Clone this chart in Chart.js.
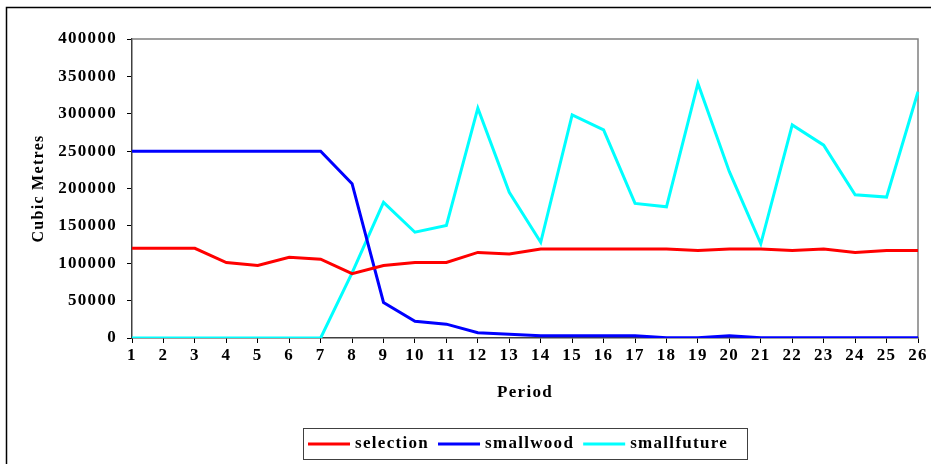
<!DOCTYPE html>
<html>
<head>
<meta charset="utf-8">
<script src="https://cdn.jsdelivr.net/npm/chart.js@4"></script>
<style>
  body { margin: 0; background: #fff; }
  canvas { display: block; }
</style>
</head>
<body>
<canvas id="myChart" width="931" height="464"></canvas>
<script>
var periods = ['1','2','3','4','5','6','7','8','9','10','11','12','13','14','15','16','17','18','19','20','21','22','23','24','25','26'];

var selection = [120000, 120000, 120000, 101000, 97000, 108000, 105500, 86000, 97000, 101000, 101000, 114500, 112500,
                 119000, 119000, 119000, 119000, 119000, 117000, 119000, 119000, 117000, 119000, 114500, 117000, 117000];
var smallwood = [250000, 250000, 250000, 250000, 250000, 250000, 250000, 206500, 47500, 22500, 18500, 7000, 5000,
                 3000, 3000, 3000, 3000, 500, 500, 3000, 500, 500, 500, 500, 500, 500];
var smallfuture = [0, 0, 0, 0, 0, 0, 0, 87000, 181500, 141500, 150500, 307500, 195000,
                   128000, 298500, 278500, 180000, 175500, 340500, 222500, 126000, 285000, 258000, 191500, 188500, 329500];

var seriesNames = ['selection', 'smallwood', 'smallfuture'];
var seriesColors = ['#ff0000', '#0000ff', '#00ffff'];

var serif = '"Liberation Serif", "Times New Roman", serif';
var spacing = '1.3px';

function boldFont(size) {
  return { family: serif, size: size, weight: 'bold' };
}

// letter spacing gets reset whenever the canvas is resized, so set it each pass
var spacingPlugin = {
  id: 'spacing',
  beforeUpdate: function (chart) { chart.ctx.letterSpacing = spacing; },
  beforeDraw: function (chart) { chart.ctx.letterSpacing = spacing; }
};

var framePlugin = {
  id: 'frame',
  beforeDatasetsDraw: function (chart) {
    var ctx = chart.ctx;
    var a = chart.chartArea;
    ctx.save();
    // gray top and right edges of the plot area
    ctx.strokeStyle = '#808080';
    ctx.lineWidth = 1.5;
    ctx.beginPath();
    ctx.moveTo(a.left, a.top);
    ctx.lineTo(a.right, a.top);
    ctx.lineTo(a.right, a.bottom);
    ctx.stroke();
    // outer picture frame (only top and left show)
    ctx.strokeStyle = '#000';
    ctx.lineWidth = 1.5;
    ctx.beginPath();
    ctx.moveTo(6.5, chart.height);
    ctx.lineTo(6.5, 7.5);
    ctx.lineTo(chart.width, 7.5);
    ctx.stroke();
    ctx.restore();
  },
  afterDraw: function (chart) {
    var ctx = chart.ctx;
    var box = { left: 303, top: 428, width: 444, height: 31 };
    ctx.save();
    ctx.letterSpacing = spacing;
    ctx.fillStyle = '#fff';
    ctx.fillRect(box.left, box.top, box.width, box.height);
    ctx.strokeStyle = '#404040';
    ctx.lineWidth = 1;
    ctx.strokeRect(box.left + 0.5, box.top + 0.5, box.width, box.height);
    ctx.font = 'bold 17px ' + serif;
    ctx.textBaseline = 'middle';
    ctx.textAlign = 'left';
    var x = box.left + 5;
    var y = box.top + box.height / 2 + 0.5;
    chart.data.datasets.forEach(function (ds) {
      ctx.strokeStyle = ds.borderColor;
      ctx.lineWidth = 3;
      ctx.beginPath();
      ctx.moveTo(x, y);
      ctx.lineTo(x + 42, y);
      ctx.stroke();
      ctx.fillStyle = '#000';
      ctx.fillText(ds.label, x + 47, y);
      x += 47 + ctx.measureText(ds.label).width + 9;
    });
    ctx.restore();
  }
};

var ctx = document.getElementById('myChart');
var myChart = new Chart(ctx, {
  type: 'line',
  data: {
    labels: periods,
    datasets: [selection, smallwood, smallfuture].map(function (values, i) {
      return {
        label: seriesNames[i],
        data: values,
        borderColor: seriesColors[i],
        backgroundColor: seriesColors[i],
        borderWidth: 3,
        pointRadius: 0,
        tension: 0,
        fill: false
      };
    })
  },
  options: {
    responsive: false,
    animation: false,
    layout: { padding: { top: 39, right: 13, left: 0, bottom: 0 } },
    plugins: {
      legend: { display: false },
      tooltip: { enabled: false }
    },
    scales: {
      x: {
        type: 'category',
        offset: false,
        grid: { display: true, drawOnChartArea: false, drawTicks: true, tickLength: 5, color: '#000' },
        border: { display: true, color: '#404040', width: 1.5 },
        ticks: { color: '#000', font: boldFont(17), padding: 2, maxRotation: 0, autoSkip: false },
        title: { display: true, text: 'Period', color: '#000', font: boldFont(17), padding: { top: 0, bottom: 61 } },
        afterFit: function (scale) { scale.height = 126; }
      },
      y: {
        min: 0,
        max: 400000,
        grid: { display: true, drawOnChartArea: false, drawTicks: true, tickLength: 5, color: '#000' },
        border: { display: true, color: '#404040', width: 1.5 },
        ticks: {
          stepSize: 50000,
          color: '#000',
          font: boldFont(17),
          padding: 10,
          callback: function (value) { return String(value); }
        },
        title: { display: true, text: 'Cubic Metres', color: '#000', font: boldFont(16), padding: { top: 29, bottom: 0 } },
        afterFit: function (scale) { scale.width = 132; }
      }
    }
  },
  plugins: [spacingPlugin, framePlugin]
});
</script>
</body>
</html>
